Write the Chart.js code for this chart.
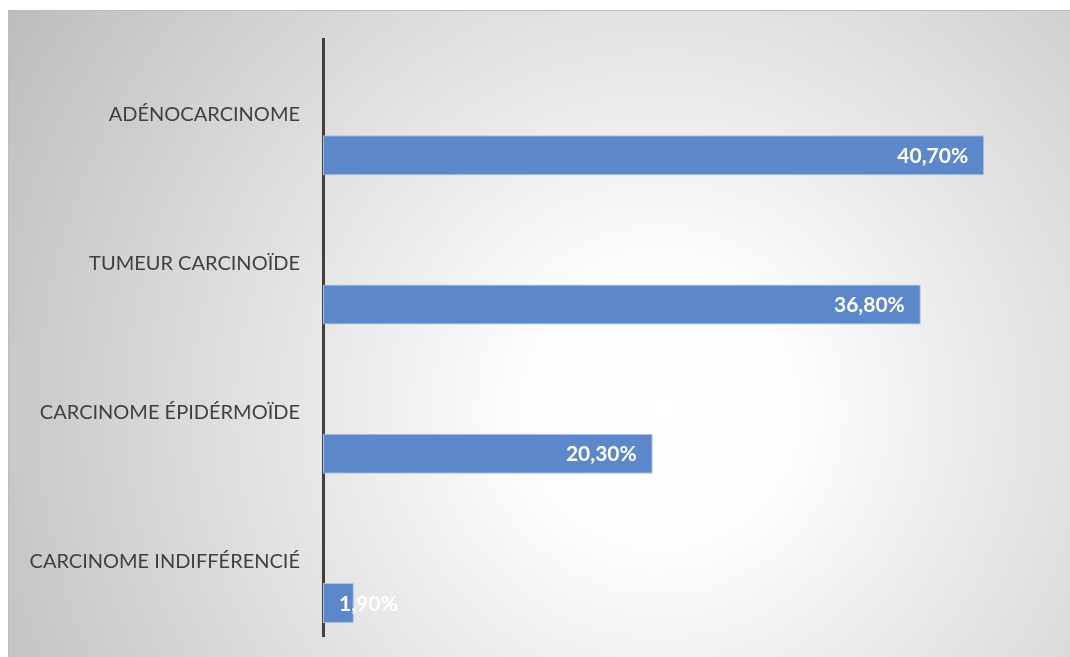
<!DOCTYPE html>
<html>
<head>
<meta charset="utf-8">
<script src="https://cdn.jsdelivr.net/npm/chart.js@4.4.0/dist/chart.umd.min.js"></script>
<style>
    html, body { margin: 0; padding: 0; background: #ffffff; }
    #wrap { width: 1070px; height: 657px; }
</style>
</head>
<body>
<div id="wrap"><canvas id="chartCanvas" width="1070" height="657"></canvas></div>
<script>
// Types histologiques (%)
const categories = ['ADÉNOCARCINOME', 'TUMEUR CARCINOÏDE', 'CARCINOME ÉPIDÉRMOÏDE', 'CARCINOME INDIFFÉRENCIÉ'];
const percentages = [40.7, 36.8, 20.3, 1.9];
const spacer = [null, null, null, null]; // série vide : pousse les barres sous les libellés
const xMax = 45;

const FONT = 'Lato, "Open Sans", sans-serif';

function formatPct(v) {
    return v.toFixed(2).replace('.', ',') + '%';
}

// Fond dégradé radial + bordure du cadre
const backgroundPlugin = {
    id: 'background',
    beforeDraw(chart) {
        const ctx = chart.ctx;
        ctx.save();
        ctx.fillStyle = '#ffffff';
        ctx.fillRect(0, 0, chart.width, chart.height);
        const g = ctx.createRadialGradient(660, 410, 0, 660, 410, 760);
        g.addColorStop(0, '#ffffff');
        g.addColorStop(0.18, '#fdfdfd');
        g.addColorStop(1, '#bdbdbd');
        ctx.fillStyle = g;
        ctx.fillRect(8, 10, chart.width - 8, chart.height - 10);
        ctx.strokeStyle = '#bcbcbc';
        ctx.lineWidth = 1;
        ctx.beginPath();
        ctx.moveTo(8.5, chart.height);
        ctx.lineTo(8.5, 10.5);
        ctx.lineTo(chart.width, 10.5);
        ctx.stroke();
        ctx.restore();
    }
};

// Étiquettes de valeur, bout intérieur de la barre
const valueLabels = {
    id: 'valueLabels',
    afterDatasetsDraw(chart) {
        const ctx = chart.ctx;
        const meta = chart.getDatasetMeta(1);
        ctx.save();
        ctx.font = 'bold 21px ' + FONT;
        ctx.fillStyle = '#ffffff';
        ctx.textBaseline = 'middle';
        ctx.textAlign = 'left';
        meta.data.forEach((bar, i) => {
            const txt = formatPct(percentages[i]);
            const w = ctx.measureText(txt).width;
            const x = Math.max(bar.x - 16 - w, bar.base + 16);
            ctx.fillText(txt, x, bar.y + 1);
        });
        ctx.restore();
    }
};

const ctx = document.getElementById('chartCanvas').getContext('2d');

new Chart(ctx, {
    type: 'bar',
    data: {
        labels: categories,
        datasets: [{
            label: '',
            data: spacer
        }, {
            label: 'Pourcentage',
            data: percentages,
            backgroundColor: '#5c87cb',
            borderColor: '#a9c0e6',
            borderWidth: 1,
            borderSkipped: false
        }]
    },
    options: {
        indexAxis: 'y',
        responsive: false,
        animation: false,
        categoryPercentage: 1.1,
        barPercentage: 0.488,
        layout: {
            padding: { top: 39.5, bottom: 20.5, right: 16, left: 0 }
        },
        plugins: {
            legend: { display: false },
            tooltip: { enabled: false }
        },
        scales: {
            x: {
                display: false,
                min: 0,
                max: xMax
            },
            y: {
                grid: { display: false, drawTicks: false },
                border: { display: true, color: '#404040', width: 3 },
                ticks: {
                    color: '#404040',
                    padding: 23,
                    font: { family: FONT, size: 20 }
                },
                afterFit(scale) {
                    scale.width = 323;
                    scale.paddingTop = 0;
                    scale.paddingBottom = 0;
                }
            }
        }
    },
    plugins: [backgroundPlugin, valueLabels]
});
</script>
</body>
</html>
